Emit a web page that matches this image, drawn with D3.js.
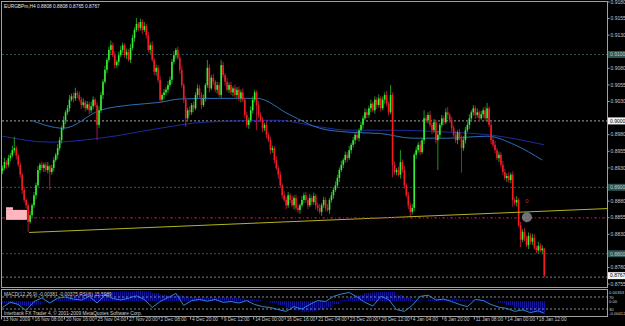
<!DOCTYPE html>
<html>
<head>
<meta charset="utf-8">
<script src="https://cdn.jsdelivr.net/npm/d3@7"></script>
<style>
    body { margin: 0; background: #000; }
    svg { display: block; }
    text { font-family: "Liberation Sans", Arial, sans-serif; }
</style>
</head>
<body>
<svg id="chart" width="625" height="326"></svg>
<script>
// EURGBPm H4 closes, in pips (price * 10000), one per bar
var closePips = [
    8929,8938,8934,8944,8948,8956,8959,8948,8934,8919,
    8896,8881,8873,8848,8858,8873,8888,8903,8926,8934,
    8929,8934,8926,8932,8923,8929,8941,8949,8959,8971,
    8989,9001,9013,9019,9032,9037,9034,9042,9039,9032,
    9024,9028,9019,9025,9016,9022,9032,9024,8994,9016,
    9039,9059,9077,9092,9107,9114,9099,9084,9089,9099,
    9107,9114,9099,9104,9092,9110,9125,9137,9146,9140,
    9149,9137,9143,9129,9107,9114,9092,9074,9080,9062,
    9032,9039,9043,9047,9054,9062,9089,9099,9107,9095,
    9077,9054,9032,9004,9016,9013,9024,9019,9039,9049,
    9039,9024,9034,9054,9080,9049,9065,9059,9047,9054,
    9039,9084,9069,9059,9047,9054,9043,9049,9039,9047,
    9034,9043,9032,9009,8994,9001,9016,9032,9043,9024,
    9009,9001,8989,8994,8979,8971,8956,8959,8941,8929,
    8919,8903,8888,8881,8873,8888,8881,8873,8884,8869,
    8866,8873,8881,8888,8881,8873,8884,8878,8887,8873,
    8869,8863,8873,8881,8869,8866,8881,8888,8896,8903,
    8914,8926,8934,8941,8949,8944,8956,8964,8971,8979,
    8974,8986,8994,9004,9013,9009,9019,9026,9016,9032,
    9024,9034,9019,9032,9039,9026,9013,9039,8934,8923,
    8926,8919,8938,8926,8903,8888,8873,8863,8869,8949,
    8956,8964,8953,8971,9004,9001,9009,8994,8986,8998,
    8971,8979,8994,9004,8998,9013,9009,9001,8989,8979,
    8971,8983,8974,8959,8971,8986,8994,9004,9013,9019,
    9009,9013,9004,9010,9016,9004,9019,8994,8971,8964,
    8956,8944,8949,8934,8923,8914,8917,8911,8919,8881,
    8877,8881,8843,8821,8833,8824,8813,8827,8818,8824,
    8809,8805,8812,8805,8808,8767
];
var firstOpen = 8925;

// wick lengths above / below the body, in pips
var upWick = [
    4,6,3,5,4,7,17,3,2,4, 3,5,2,4,6,3,5,4,6,3, 5,3,4,6,2,5,4,3,6,5,
    4,6,3,5,7,4,6,8,3,5, 4,6,3,5,4,7,5,3,4,6, 5,4,6,3,5,7,4,6,3,5,
    6,4,3,5,4,6,5,4,9,3, 5,4,6,3,5,4,6,3,5,4, 6,3,5,4,6,5,4,6,3,5,
    4,6,3,5,4,6,3,5,4,6, 5,4,6,3,12,5,4,6,3,5, 4,8,5,3,6,4,5,3,6,4,
    5,4,6,3,5,4,6,5,4,3, 6,4,5,3,6,4,5,4,3,6, 4,5,3,6,4,5,3,6,4,5,
    5,3,6,4,5,3,6,4,5,3, 4,6,3,5,4,6,3,5,4,6, 5,4,6,3,5,4,6,3,5,4,
    6,3,5,4,6,5,4,6,3,5, 4,6,3,5,4,6,3,15,4,5, 3,5,18,4,6,3,5,4,6,3,
    5,4,6,3,12,5,4,6,3,5, 4,6,3,5,4,6,8,3,5,4, 6,3,5,4,6,5,4,6,3,5,
    4,6,3,5,4,6,8,3,5,4, 6,3,5,4,6,5,4,6,3,5, 4,6,3,5,4,6,3,5,4,6,
    5,3,6,4,5,0
];
var dnWick = [
    5,3,6,4,5,3,4,6,3,5, 6,4,5,15,3,5,4,6,3,5, 4,6,3,5,27,4,5,3,6,4,
    5,3,6,4,5,3,6,4,5,3, 6,4,5,3,6,4,5,3,23,5, 4,6,3,5,4,6,3,5,4,6,
    3,5,4,6,3,5,4,6,3,5, 4,6,3,5,4,6,3,5,6,4, 5,3,6,4,5,3,6,4,5,3,
    6,4,5,13,3,5,4,6,3,5, 4,6,3,5,4,6,3,5,4,6, 3,5,4,6,3,5,4,6,3,5,
    4,6,3,5,4,6,3,5,4,38, 5,3,6,4,5,3,6,4,5,3, 6,4,5,3,6,4,5,3,6,4,
    4,6,3,5,4,6,3,5,4,6, 5,3,6,4,5,3,6,4,5,3, 4,6,3,5,4,6,3,5,4,6,
    3,5,4,6,3,5,4,6,3,5, 6,4,5,3,6,4,5,3,19,4, 5,3,6,4,5,3,6,8,4,5,
    6,4,5,3,6,4,5,3,6,4, 5,45,6,4,5,3,6,4,5,3, 4,6,3,37,4,5,3,6,4,5,
    6,4,5,3,6,4,5,3,6,4, 5,3,6,4,5,3,6,4,5,10, 4,6,3,11,4,5,3,6,4,5,
    3,4,5,3,6,2
];

// moving averages (bar index, price)
var fastMaBars = [14.5, 31, 49.5, 65, 80, 90, 110, 129, 146, 161, 176, 192, 208, 226, 246, 260, 274];
var fastMa = [0.9001, 0.8989, 0.9016, 0.9024, 0.9028, 0.9033, 0.9034, 0.9034, 0.9009, 0.8989, 0.8983, 0.8981, 0.8974, 0.8974, 0.8977, 0.8964, 0.8941];
var slowMaBars = [0, 24, 49.5, 80, 102, 139, 161, 176, 197, 227, 247, 275];
var slowMa = [0.8977, 0.8968, 0.8974, 0.8989, 0.8998, 0.9001, 0.8991, 0.8986, 0.8986, 0.8983, 0.8979, 0.8964];

// drawn objects
var trendBars = [13.5, 307];
var trendPrices = [0.8832, 0.8868];
var hLinePrice = 0.8854;
var bidPrice = 0.8767;
var levelPrices = [0.9100, 0.9000, 0.8900, 0.8800];
var levelLight = [false, true, false, false];

// price axis (labels hidden under the level tags are left out)
var priceTicks = [0.9180, 0.9155, 0.9130, 0.9080, 0.9055, 0.9030, 0.8980,
    0.8955, 0.8930, 0.8880, 0.8855, 0.8830, 0.8780, 0.8755];

// time axis
var timeBars = [0, 16, 32, 48, 64, 80, 96, 112, 128, 144, 160, 176, 192, 208, 224, 240, 256, 272];
var timeLabels = ["13 Nov 2009", "16 Nov 08:00", "20 Nov 16:00", "25 Nov 04:00", "27 Nov 20:00",
    "2 Dec 08:00", "4 Dec 20:00", "9 Dec 12:00", "14 Dec 00:00", "16 Dec 16:00", "21 Dec 04:00",
    "23 Dec 20:00", "29 Dec 12:00", "4 Jan 04:00", "6 Jan 20:00", "11 Jan 08:00", "14 Jan 00:00", "18 Jan 12:00"];

// indicator window, sampled every 4 bars
var macdHist = [
    -8,-10,-14,-18,-12,-4,2,8,16,22,
    26,27,26,29,32,34,33,35,34,28,
    22,18,20,16,13,12,13,12,13,11,
    9,6,5,1,-6,-14,-24,-32,-38,-36,
    -30,-22,-10,4,14,22,28,31,33,32,
    22,12,4,2,6,8,8,9,6,3,
    2,3,0,-6,-14,-22,-30,-36,-40
];
var rsiVals = [
    35,53,45,25,55,67,50,66,70,63,
    60,72,50,77,65,60,66,74,62,35,
    55,68,82,42,58,62,56,62,52,55,
    50,58,45,38,35,28,22,38,30,45,
    58,55,72,80,85,70,52,40,72,62,
    28,22,42,72,76,60,63,55,45,38,
    62,58,45,36,32,22,27,18,24,15.6
];

var svg = d3.select("#chart");

// set the ranges
var x = d3.scaleLinear().domain([0, 275]).range([2.5, 544.25]);
var y = d3.scaleLinear().domain([0.8755, 0.9180]).range([283.6, 1.4]);
var yMacd = d3.scaleLinear().domain([-0.00412, 0.00353]).range([313, 291]);
var yRsi = d3.scaleLinear().domain([0, 100]).range([318, 288]);

var defs = svg.append("defs");
defs.append("clipPath").attr("id", "clipMain")
    .append("rect").attr("x", 2).attr("y", 1.5).attr("width", 605).attr("height", 285.5);
defs.append("clipPath").attr("id", "clipSub")
    .append("rect").attr("x", 2).attr("y", 290).attr("width", 605).attr("height", 26);
var pat = defs.append("pattern").attr("id", "stripes")
    .attr("patternUnits", "userSpaceOnUse").attr("width", 2).attr("height", 4);
pat.append("rect").attr("width", 1).attr("height", 4).attr("fill", "#12129a");

svg.append("rect").attr("width", 625).attr("height", 326).attr("fill", "#000");

var main = svg.append("g").attr("clip-path", "url(#clipMain)");

// horizontal level lines
levelPrices.forEach(function (p, k) {
    main.append("line")
        .attr("x1", 2).attr("x2", 607)
        .attr("y1", y(p)).attr("y2", y(p))
        .attr("stroke", levelLight[k] ? "#a8a8a8" : "#2f5a55")
        .attr("stroke-dasharray", "2,2");
});
main.append("line")
    .attr("x1", 2).attr("x2", 607)
    .attr("y1", y(bidPrice) + 1.5).attr("y2", y(bidPrice) + 1.5)
    .attr("stroke", "#7a7a7a").attr("stroke-dasharray", "2,2");

// moving averages
var maLine = d3.line()
    .x(function (d) { return x(d[0]); })
    .y(function (d) { return y(d[1]); })
    .curve(d3.curveMonotoneX);
main.append("path")
    .datum(slowMaBars.map(function (b, k) { return [b, slowMa[k]]; }))
    .attr("d", maLine).attr("fill", "none").attr("stroke", "#1f2aa0").attr("stroke-width", 1);
main.append("path")
    .datum(fastMaBars.map(function (b, k) { return [b, fastMa[k]]; }))
    .attr("d", maLine).attr("fill", "none").attr("stroke", "#2c70b8").attr("stroke-width", 1);

// candles
var bars = closePips.map(function (c, i) {
    var o = i === 0 ? firstOpen : closePips[i - 1];
    return {
        i: i, o: o / 1e4, c: c / 1e4,
        h: (Math.max(o, c) + upWick[i]) / 1e4,
        l: (Math.min(o, c) - dnWick[i]) / 1e4
    };
});
var candle = main.selectAll(".candle")
    .data(bars)
    .enter().append("g")
    .attr("class", "candle");
candle.append("line")
    .attr("x1", function (d) { return x(d.i); })
    .attr("x2", function (d) { return x(d.i); })
    .attr("y1", function (d) { return y(d.h); })
    .attr("y2", function (d) { return y(d.l); })
    .attr("stroke", function (d) { return d.c >= d.o ? "#1e961e" : "#ad1540"; })
    .attr("stroke-width", 1);
candle.append("rect")
    .attr("x", function (d) { return x(d.i) - 0.8; })
    .attr("width", 1.6)
    .attr("y", function (d) { return y(Math.max(d.o, d.c)); })
    .attr("height", function (d) { return Math.max(0.8, Math.abs(y(d.o) - y(d.c))); })
    .attr("fill", function (d) { return d.c >= d.o ? "#36f036" : "#f51c1c"; });

// trend line and horizontal line
main.append("line")
    .attr("x1", x(trendBars[0])).attr("x2", x(trendBars[1]))
    .attr("y1", y(trendPrices[0])).attr("y2", y(trendPrices[1]))
    .attr("stroke", "#b4b41e").attr("stroke-width", 1);
main.append("line")
    .attr("x1", 2).attr("x2", 607)
    .attr("y1", y(hLinePrice)).attr("y2", y(hLinePrice))
    .attr("stroke", "#c0104a").attr("stroke-dasharray", "3,2,1,2");

// price label box at the left
main.append("rect")
    .attr("x", x(1.8)).attr("width", x(12.4) - x(1.8))
    .attr("y", y(0.8866)).attr("height", y(0.8851) - y(0.8866))
    .attr("fill", "#ffb6c1");
main.append("rect")
    .attr("x", x(1.8)).attr("width", x(5.3) - x(1.8))
    .attr("y", y(0.8870)).attr("height", y(0.8866) - y(0.8870))
    .attr("fill", "#ffb6c1");

// marker near the end
main.append("circle")
    .attr("cx", x(266.2)).attr("cy", y(0.8855)).attr("r", 5)
    .attr("fill", "#8a8f96").attr("opacity", 0.8);
main.append("text")
    .attr("x", x(266.2)).attr("y", y(0.8879) + 2)
    .attr("text-anchor", "middle").attr("font-size", 6)
    .attr("fill", "#b0305a").text("0");

// title
svg.append("text").attr("x", 4).attr("y", 8)
    .attr("font-size", 4.8).attr("fill", "#e6e6e6")
    .text("EURGBPm,H4  0.8808 0.8808 0.8765 0.8767");

// window frames
var frame = svg.append("g").attr("fill", "none").attr("stroke", "#a0a0a0").attr("stroke-width", 1);
frame.append("rect").attr("x", 1.5).attr("y", 1.5).attr("width", 606).attr("height", 286);
frame.append("rect").attr("x", 1.5).attr("y", 289.5).attr("width", 606).attr("height", 27);

// price axis
var yAxis = svg.append("g")
    .attr("transform", "translate(607.5,0)")
    .call(d3.axisRight(y).tickValues(priceTicks)
        .tickFormat(d3.format(".4f")).tickSize(2).tickSizeOuter(0).tickPadding(1));
yAxis.select(".domain").remove();
yAxis.selectAll("line").attr("stroke", "#a0a0a0");
yAxis.selectAll("text").attr("font-size", 5).attr("fill", "#c8c8c8")
    .attr("font-family", "Liberation Sans, Arial, sans-serif");

// highlighted level labels
var tags = levelPrices.map(function (p, k) { return {p: p, light: levelLight[k], t: d3.format(".4f")(p)}; });
tags.push({p: bidPrice, light: true, t: d3.format(".4f")(bidPrice)});
var tag = svg.selectAll(".tag").data(tags).enter().append("g").attr("class", "tag");
tag.append("rect")
    .attr("x", 608).attr("width", 17)
    .attr("y", function (d) { return y(d.p) - 3.5; }).attr("height", 7)
    .attr("fill", function (d) { return d.light ? "#f4f4f4" : "#2c5450"; });
tag.append("text")
    .attr("x", 610).attr("y", function (d) { return y(d.p) + 1.8; })
    .attr("font-size", 5)
    .attr("fill", function (d) { return d.light ? "#000" : "#c8c8c8"; })
    .text(function (d) { return d.t; });

// indicator window
var sub = svg.append("g").attr("clip-path", "url(#clipSub)");
sub.selectAll(".hist")
    .data(macdHist)
    .enter().append("rect")
    .attr("class", "hist")
    .attr("x", function (d, k) { return x(k * 4) - 1; })
    .attr("width", function (d, k) { return x(k * 4 + 4) - x(k * 4); })
    .attr("y", function (d) { return Math.min(yMacd(d / 1e4), yMacd(0)); })
    .attr("height", function (d) { return Math.abs(yMacd(d / 1e4) - yMacd(0)); })
    .attr("fill", "url(#stripes)");
[70, 30].forEach(function (v) {
    sub.append("line").attr("x1", 2).attr("x2", 607)
        .attr("y1", yRsi(v)).attr("y2", yRsi(v))
        .attr("stroke", "#8a8a8a").attr("stroke-dasharray", "2,2");
});
var rsiBars = d3.range(0, 276, 4).concat([275]);
sub.append("path")
    .datum(rsiVals)
    .attr("d", d3.line()
        .x(function (d, k) { return x(rsiBars[k]); })
        .y(function (d) { return yRsi(d); }))
    .attr("fill", "none").attr("stroke", "#2f86d6").attr("stroke-width", 1);

svg.append("text").attr("x", 4).attr("y", 296)
    .attr("font-size", 4.8).attr("fill", "#d0d0d0")
    .text("MACD(12,26,9) -0.00381 -0.00375  RSI(6) 15.5989");
svg.append("text").attr("x", 4).attr("y", 315)
    .attr("font-size", 4.8).attr("fill", "#d0d0d0")
    .text("Interbank FX Trader 4, \u00a9 2001-2009 MetaQuotes Software Corp.");

// indicator scale labels
var subLabels = [["0.00353", 292], ["70", 297], ["0.00", 301], ["30", 309], ["-0.00412", 313]];
svg.selectAll(".sublab").data(subLabels).enter().append("text")
    .attr("class", "sublab")
    .attr("x", 609).attr("y", function (d) { return d[1] + 1.5; })
    .attr("font-size", 4.2).attr("fill", "#c8c8c8")
    .text(function (d) { return d[0]; });

// time axis
var xAxis = svg.append("g")
    .attr("transform", "translate(-1.5,316.5)")
    .call(d3.axisBottom(x).tickValues(timeBars)
        .tickFormat(function (d, k) { return timeLabels[k]; })
        .tickSize(3).tickSizeOuter(0).tickPadding(1));
xAxis.select(".domain").remove();
xAxis.selectAll("line").attr("stroke", "#a0a0a0");
xAxis.selectAll("text")
    .attr("text-anchor", "start").attr("x", 1.5).attr("dy", "0.2em")
    .attr("font-size", 4.8).attr("fill", "#c8c8c8")
    .attr("font-family", "Liberation Sans, Arial, sans-serif");
</script>
</body>
</html>
